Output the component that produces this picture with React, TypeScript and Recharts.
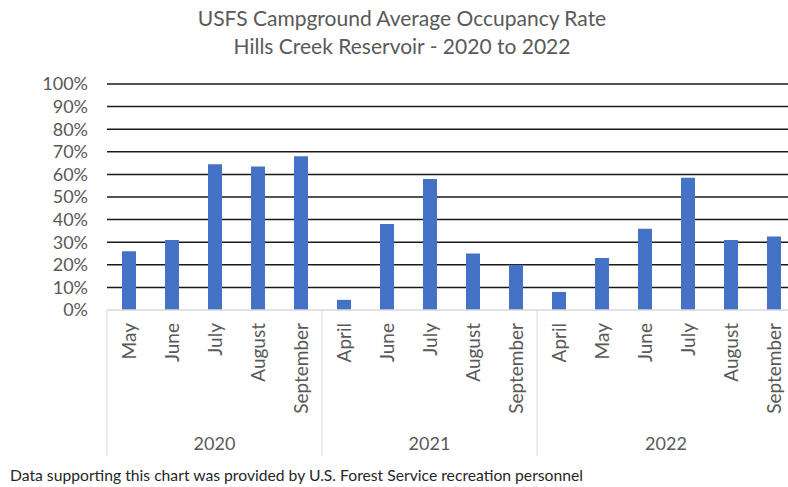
import React from "react";
import { Bar, BarChart, CartesianGrid, XAxis, YAxis } from "recharts";

const years = ["2020", "2021", "2022"];
const months2020 = ["May", "June", "July", "August", "September"];
const months2021 = ["April", "June", "July", "August", "September"];
const months2022 = ["April", "May", "June", "July", "August", "September"];
const rates2020 = [26, 31, 64.5, 63.5, 68];
const rates2021 = [4.5, 38, 58, 25, 20];
const rates2022 = [8, 23, 36, 58.5, 31, 32.5];
const yTicks = [0, 10, 20, 30, 40, 50, 60, 70, 80, 90, 100];
const gridValues = [10, 20, 30, 40, 50, 60, 70, 80, 90, 100];

const monthsByYear = [months2020, months2021, months2022];
const ratesByYear = [rates2020, rates2021, rates2022];

const rows = years.flatMap((year, yi) =>
  monthsByYear[yi].map((month, mi) => ({
    key: `${year}-${month}`,
    year,
    month,
    pos: mi,
    count: monthsByYear[yi].length,
    rate: ratesByYear[yi][mi],
  })),
);

const FONT = "Lato, 'Open Sans', sans-serif";
const TEXT = "#595959";

const CategoryTick = (props: any) => {
  const { x, y, index, payload } = props;
  const row = rows[index];
  const half = payload?.offset || 21.5;
  const isMid =
    row.count % 2 === 1
      ? row.pos === (row.count - 1) / 2
      : row.pos === row.count / 2;
  const yearX = row.count % 2 === 1 ? x : x - half;
  return (
    <g>
      <text
        x={x}
        y={y + 13}
        transform={`rotate(-90, ${x}, ${y + 13})`}
        textAnchor="end"
        dominantBaseline="central"
        fontFamily={FONT}
        fontSize={19}
        fill={TEXT}
      >
        {row.month}
      </text>
      {row.pos === 0 && (
        <line
          x1={x - half}
          x2={x - half}
          y1={y}
          y2={y + 146}
          stroke="#d9d9d9"
          strokeWidth={1}
        />
      )}
      {isMid && (
        <text
          x={yearX}
          y={y + 133}
          textAnchor="middle"
          dominantBaseline="central"
          fontFamily={FONT}
          fontSize={18}
          fill={TEXT}
        >
          {row.year}
        </text>
      )}
    </g>
  );
};

export default function App() {
  return (
    <div
      style={{
        position: "absolute",
        left: 0,
        top: 0,
        width: 788,
        height: 487,
        overflow: "hidden",
        background: "#fff",
        fontFamily: FONT,
      }}
    >
      <div
        style={{
          position: "absolute",
          left: 0,
          width: 804,
          top: 4,
          textAlign: "center",
          color: TEXT,
          fontSize: 21,
          lineHeight: "28px",
        }}
      >
        USFS Campground Average Occupancy Rate
        <br />
        Hills Creek Reservoir - 2020 to 2022
      </div>
      <div style={{ position: "absolute", left: 0, top: 0 }}>
        <BarChart
          width={800}
          height={456}
          data={rows}
          margin={{ top: 84, right: 5, left: 0, bottom: 0 }}
          barSize={14}
        >
          <CartesianGrid
            vertical={false}
            horizontalValues={gridValues}
            stroke="#1a1a1a"
            strokeWidth={1.5}
          />
          <XAxis
            dataKey="key"
            interval={0}
            height={146}
            tickLine={false}
            tickSize={0}
            tickMargin={0}
            axisLine={{ stroke: "#d9d9d9", strokeWidth: 1.5 }}
            tick={<CategoryTick />}
          />
          <YAxis
            width={107}
            domain={[0, 100]}
            ticks={yTicks}
            interval={0}
            axisLine={false}
            tickLine={false}
            tickSize={0}
            tickMargin={19}
            tickFormatter={(v) => `${v}%`}
            tick={{ fontSize: 18, fill: TEXT, fontFamily: FONT }}
          />
          <Bar dataKey="rate" fill="#4472c4" isAnimationActive={false} />
        </BarChart>
      </div>
      <div
        style={{
          position: "absolute",
          left: 10,
          top: 466,
          fontSize: 15.7,
          color: "#262626",
          whiteSpace: "nowrap",
        }}
      >
        Data supporting this chart was provided by U.S. Forest Service
        recreation personnel
      </div>
    </div>
  );
}
